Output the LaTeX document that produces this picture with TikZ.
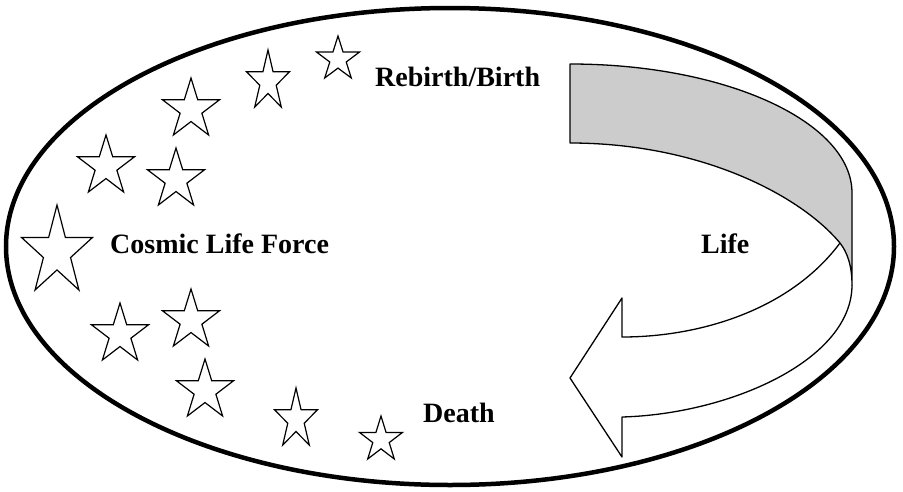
\documentclass[tikz,border=0pt]{standalone}
\usepackage{fontspec}
\setmainfont{Liberation Serif}
\definecolor{bandgray}{RGB}{204,204,204}
\tikzset{
  label/.style={font=\fontsize{28}{30}\selectfont\bfseries, inner sep=0pt, anchor=base west},
  starline/.style={line width=1.2pt, line join=miter},
  arrowline/.style={line width=1.3pt, line join=round}
}
\begin{document}
\begin{tikzpicture}[x=1pt,y=-1pt]
\useasboundingbox (0,0) rectangle (903,491);
\draw [line width=4.5pt] (450,246.5) ellipse [x radius=444, y radius=238.5];
% stars: centre x / top y / width / height
\foreach \cx/\ty/\w/\h in {338/36/43/42, 268/50/43/57, 191/78/57/57, 106/135/57/57,
    176/148/57/57, 57/205/71/85, 120/303/57/57, 191/289/57/57, 205/359/57/57,
    296/388/43/57, 381/416/43/43}
{
  \begin{scope}[shift={(\cx,\ty+\h/1.809)}, xscale=\w/1.902, yscale=\h/1.809]
    \draw [starline] (-90:1) -- (-126:.382) -- (-162:1) -- (-198:.382) -- (-234:1)
      -- (-270:.382) -- (-306:1) -- (-342:.382) -- (-378:1) -- (-414:.382) -- cycle;
  \end{scope}
}
% the life arrow
\coordinate (bandtop) at (570,64);
\coordinate (bandlow) at (570,143);
\coordinate (turn) at (852,193);
\coordinate (edge) at (852,285);
\coordinate (meet) at (840,243);
\filldraw [arrowline, fill=bandgray] (bandtop) .. controls (726,64) and (852,122) .. (turn)
  -- (edge) .. controls (852,265) and (847,252) .. (meet)
  .. controls (800,195) and (700,143) .. (bandlow) -- cycle;
\draw [arrowline] (meet) .. controls (790,310) and (700,337) .. (622,337)
  -- (622,298) -- (570,378) -- (622,457) -- (622,417)
  .. controls (730,414) and (852,360) .. (edge);
\node [label] (rebirth) at (375,86) {Rebirth/Birth};
\node [label] (cosmic) at (110,253) {Cosmic Life Force};
\node [label] (life) at (701,253) {Life};
\node [label] (death) at (423,422) {Death};
\end{tikzpicture}
\end{document}
